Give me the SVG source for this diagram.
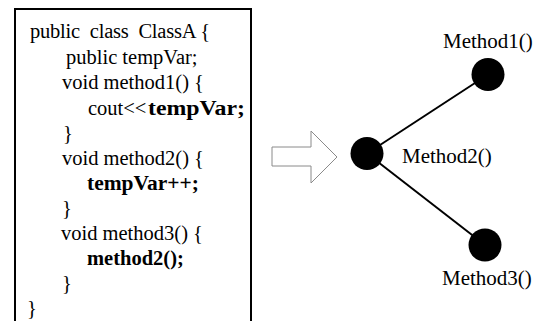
<svg xmlns="http://www.w3.org/2000/svg" width="541" height="321" viewBox="0 0 541 321">
  <style>
    .code { font-family: "Liberation Serif", "Times New Roman", serif; font-size: 20.5px; fill: #000; }
    .b { font-weight: bold; }
    .label { font-family: "Liberation Serif", "Times New Roman", serif; font-size: 21px; fill: #000; }
    .node { fill: #000; }
    .edge { stroke: #000; stroke-width: 2; fill: none; }
  </style>
  <rect width="541" height="321" fill="#fff"/>

  <!-- source code panel -->
  <g id="code-panel">
    <rect x="15" y="9" width="236" height="330" fill="#fff" stroke="#000" stroke-width="2"/>
    <text class="code" x="30" y="38" xml:space="preserve" textLength="180" lengthAdjust="spacing">public  class  ClassA {</text>
    <text class="code" x="66" y="63.5">public tempVar;</text>
    <text class="code" x="62" y="89">void method1() {</text>
    <text class="code" x="88" y="114.5">cout&lt;&lt;</text>
    <text class="code b" x="148" y="114.5" textLength="97" lengthAdjust="spacingAndGlyphs">tempVar;</text>
    <text class="code" x="63" y="140">}</text>
    <text class="code" x="62" y="165">void method2() {</text>
    <text class="code b" x="87" y="190" textLength="112" lengthAdjust="spacingAndGlyphs">tempVar++;</text>
    <text class="code" x="62" y="215">}</text>
    <text class="code" x="61" y="240">void method3() {</text>
    <text class="code b" x="87" y="265">method2();</text>
    <text class="code" x="62" y="290">}</text>
    <text class="code" x="27" y="315">}</text>
  </g>

  <!-- hollow transform arrow -->
  <g id="transform-arrow">
    <polygon points="272,147 311,147 311,131 337,157 311,183 311,166 272,166" fill="#fff" stroke="#8a8a8a" stroke-width="1"/>
  </g>

  <!-- call graph edges -->
  <g id="edges">
    <line class="edge" x1="367" y1="153.5" x2="488" y2="74.5"/>
    <line class="edge" x1="367" y1="153.5" x2="485" y2="245"/>
  </g>

  <!-- call graph nodes -->
  <g id="method1">
    <circle class="node" cx="488" cy="74.5" r="16.5"/>
    <text class="label" x="443" y="48">Method1()</text>
  </g>
  <g id="method2">
    <circle class="node" cx="367" cy="153.5" r="16.5"/>
    <text class="label" x="402" y="163">Method2()</text>
  </g>
  <g id="method3">
    <circle class="node" cx="485" cy="245" r="16.5"/>
    <text class="label" x="442" y="285">Method3()</text>
  </g>
</svg>
